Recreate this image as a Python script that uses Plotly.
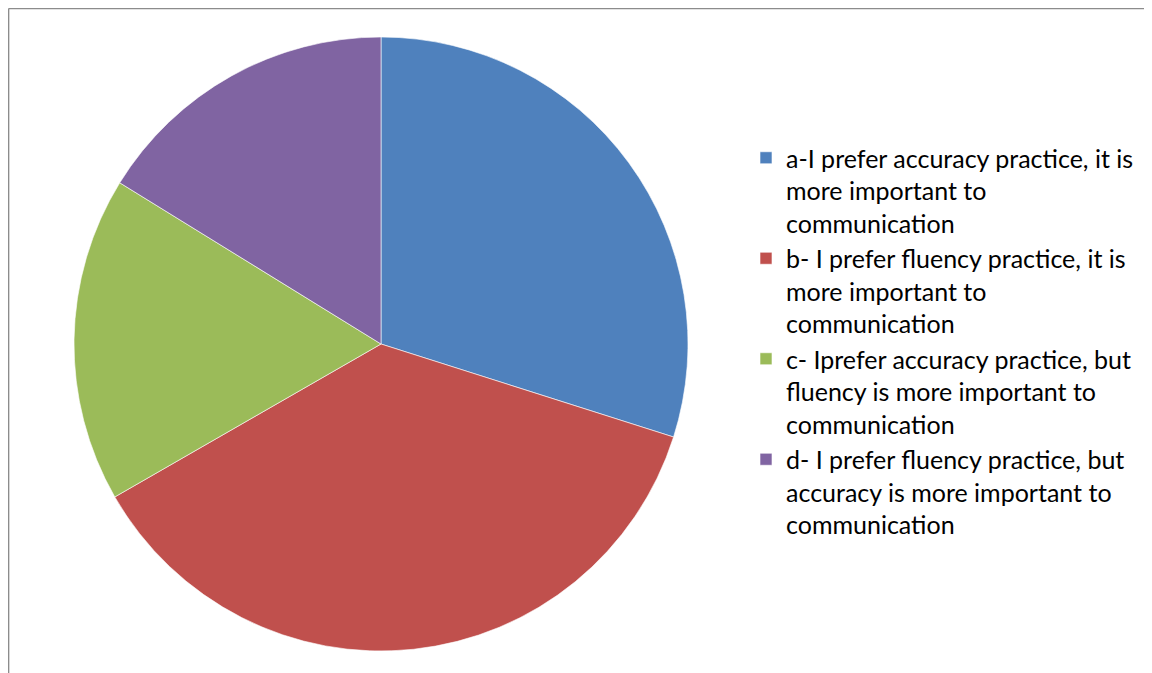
import plotly.graph_objects as go

labels = [
    "a-I prefer accuracy practice, it is<br>more important to<br>communication",
    "b- I prefer fluency practice, it is<br>more important to<br>communication",
    "c- Iprefer accuracy practice, but<br>fluency is more important to<br>communication",
    "d- I prefer fluency practice, but<br>accuracy is more important to<br>communication",
]
values = [29.9, 36.8, 17.1, 16.2]
colors = ["#4F81BD", "#C0504D", "#9BBB59", "#8064A2"]

W, H = 1152, 673
cx, cy, r = 373, 336, 307

fig = go.Figure(go.Pie(
    labels=labels,
    values=values,
    sort=False,
    direction="clockwise",
    rotation=0,
    textinfo="none",
    hoverinfo="label+percent",
    marker=dict(colors=colors, line=dict(color="white", width=0.6)),
    domain=dict(x=[(cx - r) / W, (cx + r) / W], y=[1 - (cy + r) / H, 1 - (cy - r) / H]),
))

fig.update_layout(
    width=W, height=H,
    margin=dict(l=0, r=0, t=0, b=0),
    paper_bgcolor="white",
    plot_bgcolor="white",
    font=dict(family="Lato", color="#000000"),
    legend=dict(
        x=738 / W, xanchor="left",
        y=1 - 333 / H, yanchor="middle",
        font=dict(family="Lato", size=25, color="#000000"),
        valign="top",
        bgcolor="rgba(0,0,0,0)",
    ),
    shapes=[
        dict(type="line", xref="paper", yref="paper", x0=0.6 / W, x1=1, y0=1 - 0.6 / H, y1=1 - 0.6 / H,
             line=dict(color="#8c8c8c", width=1.5)),
        dict(type="line", xref="paper", yref="paper", x0=0.6 / W, x1=0.6 / W, y0=0, y1=1 - 0.6 / H,
             line=dict(color="#8c8c8c", width=1.5)),
    ],
)

fig.write_html("out.html")
